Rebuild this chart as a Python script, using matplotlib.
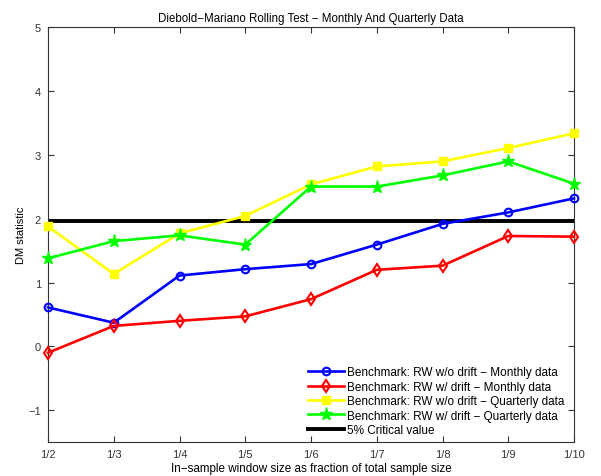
import matplotlib
matplotlib.use("Agg")
import matplotlib.pyplot as plt

plt.rcParams["font.family"] = ["Liberation Sans", "DejaVu Sans"]
plt.rcParams["axes.unicode_minus"] = True

# x axis categories: in-sample window size
windows = ["1/2", "1/3", "1/4", "1/5", "1/6", "1/7", "1/8", "1/9", "1/10"]

# DM statistics
rw_nodrift_monthly = [0.61, 0.37, 1.11, 1.21, 1.29, 1.595, 1.92, 2.10, 2.32]
rw_drift_monthly = [-0.10, 0.32, 0.40, 0.47, 0.74, 1.20, 1.265, 1.73, 1.72]
rw_nodrift_quarterly = [1.88, 1.135, 1.77, 2.045, 2.54, 2.82, 2.90, 3.11, 3.34]
rw_drift_quarterly = [1.38, 1.65, 1.74, 1.595, 2.505, 2.505, 2.68, 2.90, 2.55]
critical_value = 1.96

x = range(len(windows))

fig = plt.figure(figsize=(6.01, 4.77), dpi=100)
ax = fig.add_axes([0.0799, 0.0713, 0.8752, 0.8690])

ax.plot(x, rw_nodrift_monthly, color="#0000ff", lw=1.9, marker="o", ms=5.5,
        mfc="none", mec="#0000ff", mew=1.5, clip_on=False, zorder=3,
        label="Benchmark: RW w/o drift \u2212 Monthly data")
ax.plot(x, rw_drift_monthly, color="#ff0000", lw=1.9, marker="d", ms=6.5,
        mfc="none", mec="#ff0000", mew=1.5, clip_on=False, zorder=3,
        label="Benchmark: RW w/ drift \u2212 Monthly data")
ax.plot(x, rw_nodrift_quarterly, color="#ffff00", lw=1.9, marker="s", ms=5.5,
        mfc="#ffff00", mec="#ffff00", clip_on=False, zorder=3,
        label="Benchmark: RW w/o drift \u2212 Quarterly data")
ax.plot(x, rw_drift_quarterly, color="#00ff00", lw=1.9, marker="*", ms=9.5,
        mfc="#00ff00", mec="#00ff00", clip_on=False, zorder=3,
        label="Benchmark: RW w/ drift \u2212 Quarterly data")
ax.axhline(critical_value, color="black", lw=2.8, zorder=2,
           label="5% Critical value")

ax.set_xlim(0, len(windows) - 1)
ax.set_ylim(-1.5, 5)
ax.set_xticks(list(x))
ax.set_xticklabels(windows)
ax.set_yticks([-1, 0, 1, 2, 3, 4, 5])
ax.tick_params(direction="in", top=True, right=True, labelsize=8,
               colors="#333333", length=4, pad=5)
for s in ax.spines.values():
    s.set_color("#333333")
    s.set_linewidth(0.8)

ax.set_title("Diebold\u2212Mariano Rolling Test \u2212 Monthly And Quarterly Data",
             fontsize=8.3, pad=5)
ax.set_xlabel("In\u2212sample window size as fraction of total sample size",
              fontsize=8.4, labelpad=2)
ax.set_ylabel("DM statistic", fontsize=8, labelpad=2)

leg = ax.legend(loc="lower right", bbox_to_anchor=(1.0, -0.008), fontsize=8.5,
                frameon=False, handlelength=3.0, handletextpad=0.3,
                labelspacing=0.2, borderaxespad=0.4, numpoints=1)

fig.savefig("out.png", dpi=100)
